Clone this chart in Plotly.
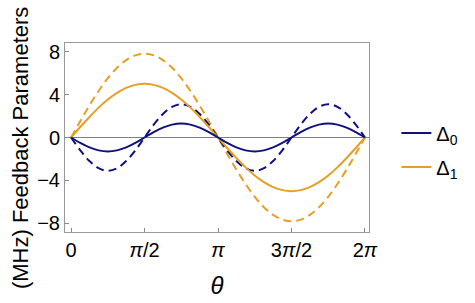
import math
import plotly.graph_objects as go

# theta sampled at k*pi/16, k = 0..32 (stored as multiples of pi)
theta_over_pi = [k / 16 for k in range(33)]

# values
delta0_solid = [0, -0.50, -0.92, -1.20, -1.30, -1.20, -0.92, -0.50, 0,
                0.50, 0.92, 1.20, 1.30, 1.20, 0.92, 0.50, 0,
                -0.50, -0.92, -1.20, -1.30, -1.20, -0.92, -0.50, 0,
                0.50, 0.92, 1.20, 1.30, 1.20, 0.92, 0.50, 0]
delta0_dashed = [0, -1.19, -2.19, -2.86, -3.10, -2.86, -2.19, -1.19, 0,
                 1.19, 2.19, 2.86, 3.10, 2.86, 2.19, 1.19, 0,
                 -1.19, -2.19, -2.86, -3.10, -2.86, -2.19, -1.19, 0,
                 1.19, 2.19, 2.86, 3.10, 2.86, 2.19, 1.19, 0]
delta1_solid = [0, 0.98, 1.91, 2.78, 3.54, 4.16, 4.62, 4.90, 5.00,
                4.90, 4.62, 4.16, 3.54, 2.78, 1.91, 0.98, 0,
                -0.98, -1.91, -2.78, -3.54, -4.16, -4.62, -4.90, -5.00,
                -4.90, -4.62, -4.16, -3.54, -2.78, -1.91, -0.98, 0]
delta1_dashed = [0, 1.52, 2.99, 4.33, 5.52, 6.49, 7.21, 7.65, 7.80,
                 7.65, 7.21, 6.49, 5.52, 4.33, 2.99, 1.52, 0,
                 -1.52, -2.99, -4.33, -5.52, -6.49, -7.21, -7.65, -7.80,
                 -7.65, -7.21, -6.49, -5.52, -4.33, -2.99, -1.52, 0]

x_tick_vals_over_pi = [0, 0.5, 1, 1.5, 2]
x_tick_text = ["0", "<i>π</i>/2", "<i>π</i>", "3<i>π</i>/2", "2<i>π</i>"]
y_tick_vals = [-8, -4, 0, 4, 8]
y_tick_text = ["−8", "−4", "0", "4", "8"]

navy = "#10107f"
orange = "#e69f25"

theta = [t * math.pi for t in theta_over_pi]

fig = go.Figure()
fig.add_trace(go.Scatter(x=theta, y=delta1_dashed, mode="lines", showlegend=False,
                         line=dict(color=orange, width=2, dash="8px,5px", shape="spline")))
fig.add_trace(go.Scatter(x=theta, y=delta0_dashed, mode="lines", showlegend=False,
                         line=dict(color=navy, width=2, dash="8px,5px", shape="spline")))
fig.add_trace(go.Scatter(x=theta, y=delta1_solid, mode="lines", name="Δ<sub>1</sub>",
                         legendgroup="d1", legendrank=2,
                         line=dict(color=orange, width=2, shape="spline")))
fig.add_trace(go.Scatter(x=theta, y=delta0_solid, mode="lines", name="Δ<sub>0</sub>",
                         legendgroup="d0", legendrank=1,
                         line=dict(color=navy, width=2, shape="spline")))

font = "Liberation Sans, Arial, sans-serif"
fig.update_layout(
    width=475, height=303,
    margin=dict(l=65, r=106, t=43, b=71, autoexpand=False),
    paper_bgcolor="white", plot_bgcolor="white",
    font=dict(family=font, size=20, color="black"),
    legend=dict(x=1.09, y=0.434, yanchor="middle", xanchor="left",
                font=dict(size=20), tracegroupgap=5,
                bgcolor="rgba(0,0,0,0)"),
    xaxis=dict(range=[-0.13, 6.37], tickvals=[v * math.pi for v in x_tick_vals_over_pi],
               ticktext=x_tick_text, ticks="inside", ticklen=4, tickcolor="#888",
               showline=True, mirror=True, linecolor="#999", linewidth=1,
               showgrid=False, zeroline=False,
               title=dict(text="<i>θ</i>", standoff=17)),
    yaxis=dict(range=[-8.8, 8.8], tickvals=y_tick_vals, ticktext=y_tick_text,
               ticks="inside", ticklen=4, tickcolor="#888",
               showline=True, mirror=True, linecolor="#999", linewidth=1,
               showgrid=False, zeroline=True, zerolinecolor="#808080", zerolinewidth=1),
    annotations=[dict(text="(MHz) Feedback Parameters", textangle=-90,
                      xref="paper", yref="paper", x=-0.148, y=0.444,
                      xanchor="center", yanchor="middle", showarrow=False,
                      font=dict(size=22))],
)

fig.write_html("out.html")
